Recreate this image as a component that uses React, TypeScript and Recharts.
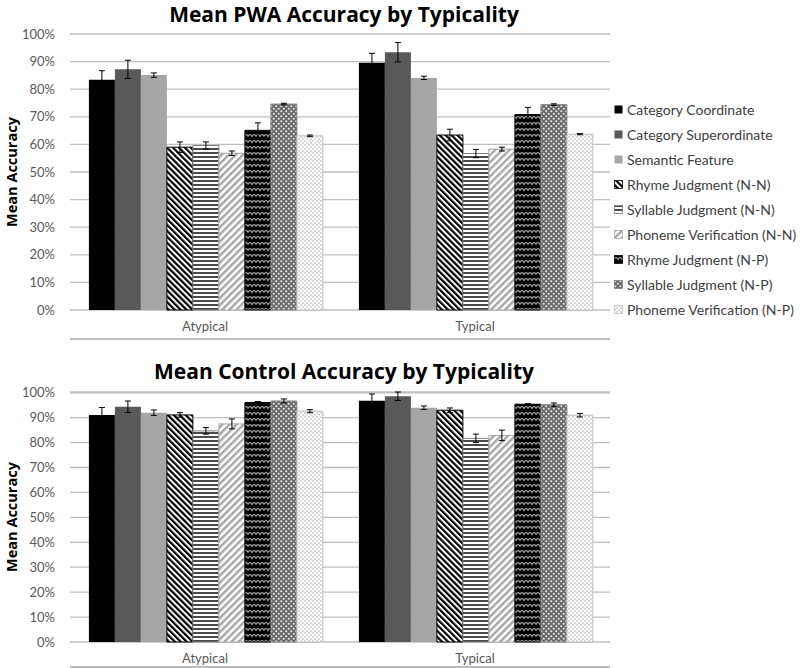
import React from 'react';
import { BarChart, Bar, XAxis, YAxis, CartesianGrid, ErrorBar, Legend } from 'recharts';

const categories = ['Atypical', 'Typical'];
const seriesNames = [
  'Category Coordinate',
  'Category Superordinate',
  'Semantic Feature',
  'Rhyme Judgment (N-N)',
  'Syllable Judgment (N-N)',
  'Phoneme Verification (N-N)',
  'Rhyme Judgment (N-P)',
  'Syllable Judgment (N-P)',
  'Phoneme Verification (N-P)',
];
const yTicks = [0, 10, 20, 30, 40, 50, 60, 70, 80, 90, 100];

const pwaAtypical = [83.4, 87.2, 85.1, 59.0, 59.6, 56.8, 65.1, 74.6, 63.1];
const pwaAtypicalErr = [3.3, 3.3, 0.8, 1.9, 1.3, 0.8, 2.7, 0.3, 0.3];
const pwaTypical = [89.6, 93.4, 84.1, 63.4, 56.7, 58.3, 70.8, 74.4, 63.7];
const pwaTypicalErr = [3.4, 3.5, 0.6, 2.1, 1.5, 0.7, 2.6, 0.3, 0.2];

const controlAtypical = [91.1, 94.4, 92.0, 91.1, 84.7, 87.5, 96.1, 96.7, 92.6];
const controlAtypicalErr = [3.0, 2.3, 1.1, 0.9, 1.3, 2.0, 0.4, 0.8, 0.6];
const controlTypical = [96.8, 98.6, 94.0, 93.0, 81.7, 82.9, 95.4, 95.2, 91.0];
const controlTypicalErr = [2.7, 1.7, 0.7, 0.9, 1.7, 2.1, 0.2, 0.7, 0.7];

const fills = [
  '#000000',
  '#595959',
  '#a6a6a6',
  'url(#pRhymeNN)',
  'url(#pSyllNN)',
  'url(#pPhonNN)',
  'url(#pRhymeNP)',
  'url(#pSyllNP)',
  'url(#pPhonNP)',
];
const strokes = ['none', 'none', 'none', '#000000', '#808080', '#a6a6a6', '#000000', '#808080', '#bfbfbf'];

const FONT = 'Lato, "Open Sans", sans-serif';
const BOLD_FONT = '"Open Sans", Lato, sans-serif';

function buildRows(vals: number[][], errs: number[][]) {
  return categories.map((c, ci) => {
    const row: Record<string, string | number> = { name: c };
    seriesNames.forEach((_, si) => {
      row['s' + si] = vals[ci][si];
      row['e' + si] = errs[ci][si];
    });
    return row;
  });
}

const pwaRows = buildRows([pwaAtypical, pwaTypical], [pwaAtypicalErr, pwaTypicalErr]);
const controlRows = buildRows([controlAtypical, controlTypical], [controlAtypicalErr, controlTypicalErr]);

function Patterns() {
  return (
    <svg width={0} height={0} style={{ position: 'absolute' }}>
      <defs>
        <pattern id="pRhymeNN" patternUnits="userSpaceOnUse" width="4.2" height="4.2" patternTransform="rotate(-45)">
          <rect width="4.2" height="4.2" fill="#ffffff" />
          <rect width="2.2" height="4.2" fill="#000000" />
        </pattern>
        <pattern id="pSyllNN" patternUnits="userSpaceOnUse" width="4" height="4">
          <rect width="4" height="4" fill="#ffffff" />
          <rect width="4" height="2" fill="#4a4a4a" />
        </pattern>
        <pattern id="pPhonNN" patternUnits="userSpaceOnUse" width="5" height="5" patternTransform="rotate(45)">
          <rect width="5" height="5" fill="#ffffff" />
          <rect width="2.4" height="5" fill="#a6a6a6" />
        </pattern>
        <pattern id="pRhymeNP" patternUnits="userSpaceOnUse" width="8" height="6">
          <rect width="8" height="6" fill="#000000" />
          <path d="M0 4.5 Q2 0.5 4 4.5 Q6 0.5 8 4.5" stroke="#a8a8a8" strokeWidth="1.2" fill="none" />
        </pattern>
        <pattern id="pSyllNP" patternUnits="userSpaceOnUse" width="5" height="5">
          <rect width="5" height="5" fill="#6a6a6a" />
          <circle cx="1.25" cy="1.25" r="1.1" fill="#e0e0e0" />
          <circle cx="3.75" cy="3.75" r="1.1" fill="#e0e0e0" />
        </pattern>
        <pattern id="pPhonNP" patternUnits="userSpaceOnUse" width="4" height="4">
          <rect width="4" height="4" fill="#ffffff" />
          <circle cx="1" cy="1" r="0.7" fill="#9a9a9a" />
          <circle cx="3" cy="3" r="0.7" fill="#9a9a9a" />
        </pattern>
      </defs>
    </svg>
  );
}

function LegendBox() {
  return (
    <div style={{ fontFamily: FONT, fontSize: 14, color: '#404040' }}>
      {seriesNames.map((s, i) => (
        <div key={s} style={{ display: 'flex', alignItems: 'center', height: 25, whiteSpace: 'nowrap' }}>
          <svg width={9} height={9} style={{ marginRight: 4, flex: 'none' }}>
            <rect x={0.5} y={0.5} width={8} height={8} fill={fills[i]} stroke={strokes[i] === 'none' ? 'none' : strokes[i]} strokeWidth={0.8} />
          </svg>
          <span>{s}</span>
        </div>
      ))}
    </div>
  );
}

function YLabel(props: any) {
  const vb = props.viewBox || { x: 0, y: 0, width: 70, height: 0 };
  const cx = vb.x + 11;
  const cy = vb.y + vb.height / 2;
  return (
    <text
      x={cx}
      y={cy}
      transform={`rotate(-90, ${cx}, ${cy})`}
      textAnchor="middle"
      dominantBaseline="central"
      fontFamily={BOLD_FONT}
      fontWeight="bold"
      fontSize={14.5}
      fill="#000000"
    >
      Mean Accuracy
    </text>
  );
}

function AccuracyChart({ rows, height, marginTop, marginBottom, showLegend }: any) {
  return (
    <BarChart
      width={800}
      height={height}
      data={rows}
      margin={{ top: marginTop, right: 190, bottom: 0, left: 0 }}
      barCategoryGap="7%"
      barGap={0}
    >
      <CartesianGrid xAxisId="cat" vertical={false} stroke="#bfbfbf" strokeWidth={1.3} />
      <XAxis
        xAxisId="edges"
        type="number"
        domain={[0, 2]}
        ticks={[0, 1, 2]}
        allowDataOverflow
        tick={false}
        tickSize={5}
        height={1}
        axisLine={{ stroke: '#a6a6a6', strokeWidth: 1.3 }}
        tickLine={{ stroke: '#a6a6a6', strokeWidth: 1.3 }}
      />
      <XAxis
        xAxisId="cat"
        dataKey="name"
        axisLine={false}
        tickLine={false}
        tickSize={0}
        tickMargin={12}
        height={marginBottom - 1}
        tick={{ fontFamily: FONT, fontSize: 13, fill: '#595959' }}
        interval={0}
      />
      <YAxis
        width={70}
        domain={[0, 100]}
        ticks={yTicks}
        tickFormatter={(v: number) => `${v}%`}
        axisLine={false}
        tickLine={false}
        tickSize={0}
        tickMargin={15}
        tick={{ fontFamily: FONT, fontSize: 13, fill: '#595959' }}
        label={<YLabel />}
      />
      {showLegend && (
        <Legend
          layout="vertical"
          align="center"
          verticalAlign="middle"
          width={186}
          wrapperStyle={{ left: 614, top: 97, width: 186 }}
          content={() => <LegendBox />}
        />
      )}
      {seriesNames.map((s, i) => (
        <Bar
          key={s}
          xAxisId="cat"
          dataKey={'s' + i}
          name={s}
          fill={fills[i]}
          stroke={strokes[i]}
          strokeWidth={strokes[i] === 'none' ? 0 : 1}
          isAnimationActive={false}
        >
          <ErrorBar dataKey={'e' + i} width={3} stroke="#000000" strokeWidth={1} direction="y" />
        </Bar>
      ))}
    </BarChart>
  );
}

const titleStyle: React.CSSProperties = {
  position: 'absolute',
  left: 0,
  width: 688,
  textAlign: 'center',
  fontFamily: BOLD_FONT,
  fontWeight: 'bold',
  fontSize: 21,
  lineHeight: '29px',
  color: '#000000',
  whiteSpace: 'nowrap',
};

export default function App() {
  return (
    <div style={{ position: 'absolute', left: 0, top: 0, width: 800, height: 668, background: '#ffffff', overflow: 'hidden' }}>
      <Patterns />
      <div style={{ position: 'absolute', left: 0, top: 0 }}>
        <AccuracyChart rows={pwaRows} height={340} marginTop={34} marginBottom={30} showLegend />
      </div>
      <div style={{ position: 'absolute', left: 0, top: 320 }}>
        <AccuracyChart rows={controlRows} height={348} marginTop={72} marginBottom={26} showLegend={false} />
      </div>
      <div style={{ ...titleStyle, top: 0 }}>Mean PWA Accuracy by Typicality</div>
      <div style={{ ...titleStyle, top: 357 }}>Mean Control Accuracy by Typicality</div>
    </div>
  );
}
